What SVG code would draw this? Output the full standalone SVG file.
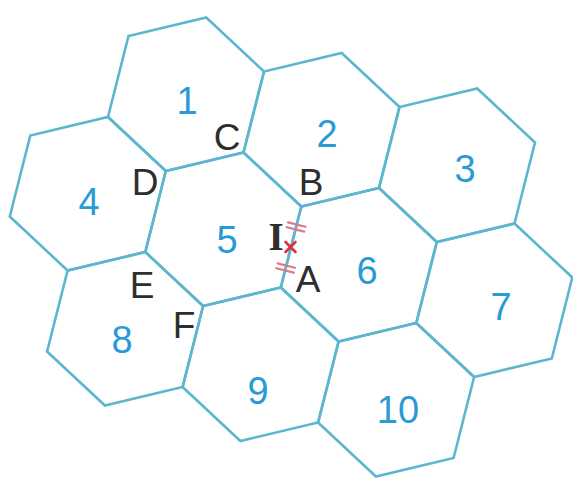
<svg xmlns="http://www.w3.org/2000/svg" xmlns:xlink="http://www.w3.org/1999/xlink" width="573" height="481" viewBox="0 0 573 481">
<style>
.hex{fill:none;stroke:#5cb6d0;stroke-width:2.6;stroke-linejoin:miter}
.num{font-family:"Liberation Sans","DejaVu Sans",sans-serif;font-size:38px;fill:#2a9ad6;text-anchor:middle}
.lbl{font-family:"Liberation Sans","DejaVu Sans",sans-serif;font-size:37px;fill:#2e2e2e;text-anchor:middle}
.tick{stroke:#e0788a;stroke-width:2.2;stroke-linecap:round}
.cross{stroke:#e0303c;stroke-width:2.6;stroke-linecap:round}
</style>
<defs>
<polygon id="hexshape" class="hex" points="108,117 128.5,36 206.2,17.5 264,71.5 243.5,152.5 165.8,171"/>
</defs>
<rect width="573" height="481" fill="#ffffff"/>
<g id="hex1"><use xlink:href="#hexshape"/><text class="num" x="187" y="114">1</text></g>
<g id="hex2"><use xlink:href="#hexshape" transform="translate(135.5,35.5)"/><text class="num" x="327" y="147">2</text></g>
<g id="hex3"><use xlink:href="#hexshape" transform="translate(271,71)"/><text class="num" x="465" y="182">3</text></g>
<g id="hex4"><use xlink:href="#hexshape" transform="translate(-98.2,99.5)"/><text class="num" x="89" y="215">4</text></g>
<g id="hex5"><use xlink:href="#hexshape" transform="translate(37.3,135)"/><text class="num" x="227" y="253">5</text></g>
<g id="hex6"><use xlink:href="#hexshape" transform="translate(172.8,170.5)"/><text class="num" x="367" y="284">6</text></g>
<g id="hex7"><use xlink:href="#hexshape" transform="translate(308.3,206)"/><text class="num" x="501" y="320">7</text></g>
<g id="hex8"><use xlink:href="#hexshape" transform="translate(-60.9,234.5)"/><text class="num" x="122" y="353">8</text></g>
<g id="hex9"><use xlink:href="#hexshape" transform="translate(74.6,270)"/><text class="num" x="258" y="404">9</text></g>
<g id="hex10"><use xlink:href="#hexshape" transform="translate(210.1,305.5)"/><text class="num" x="398" y="423">10</text></g>
<g id="marks">
<line class="tick" x1="288" y1="222.4" x2="305.4" y2="226.8"/>
<line class="tick" x1="286.8" y1="227.2" x2="304.2" y2="231.6"/>
<line class="tick" x1="277.6" y1="263.4" x2="295" y2="267.8"/>
<line class="tick" x1="276.4" y1="268.2" x2="293.8" y2="272.6"/>
<line class="cross" x1="285.5" y1="242" x2="295.5" y2="252"/>
<line class="cross" x1="285.5" y1="252" x2="295.5" y2="242"/>
</g>
<g id="labels">
<text class="lbl" x="227" y="150">C</text>
<text class="lbl" x="145" y="195">D</text>
<text class="lbl" x="311" y="195">B</text>
<text class="lbl" x="142" y="298">E</text>
<text class="lbl" x="184" y="338">F</text>
<text class="lbl" x="276" y="250" style="font-family:'Liberation Serif',serif;font-weight:bold;font-size:39px">I</text>
<text class="lbl" x="308" y="292">A</text>
</g>
</svg>
